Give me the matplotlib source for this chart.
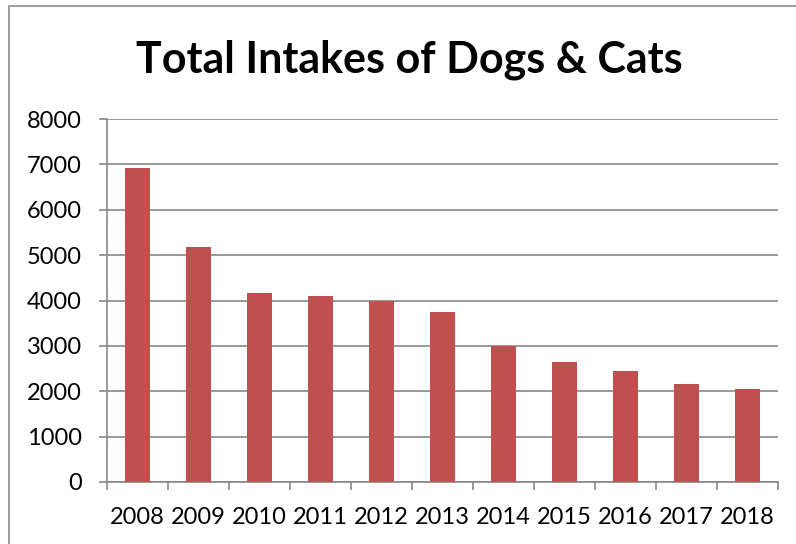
import matplotlib.pyplot as plt
from matplotlib.patches import Rectangle
import numpy as np

years = ['2008', '2009', '2010', '2011', '2012', '2013',
         '2014', '2015', '2016', '2017', '2018']
intakes = [6925, 5170, 4170, 4100, 3980, 3745, 3005, 2640, 2455, 2155, 2050]

plt.rcParams['font.family'] = ['Lato', 'DejaVu Sans']

fig = plt.figure(figsize=(7.96, 5.44), dpi=100)
ax = fig.add_axes([0.1344, 0.114, 0.8430, 0.667])

# outer chart border (Excel style), runs off the right/bottom of the image
fig.patches.append(Rectangle((9 / 796, -0.2), 1.2, 1.2 - 6 / 544,
                             transform=fig.transFigure, fill=False,
                             edgecolor='#8c8c8c', linewidth=1.2))

x = np.arange(len(years))
ax.bar(x, intakes, width=0.4, color='#C0504D', zorder=3)

ax.set_xlim(-0.5, len(years) - 0.5)
ax.set_ylim(0, 8000)
ax.set_yticks(range(0, 8001, 1000))
ax.yaxis.grid(True, color='#888888', linewidth=1.2, zorder=0)

ax.set_xticks(x)
ax.set_xticklabels(years)
ax.set_xticks(np.arange(-0.5, len(years)), minor=True)
ax.tick_params(axis='x', which='major', length=0, pad=18, labelsize=17)
ax.tick_params(axis='x', which='minor', length=6, color='#888888', width=1.2)
ax.tick_params(axis='y', length=6, color='#888888', width=1.2, pad=12, labelsize=17)

for side in ['top', 'right']:
    ax.spines[side].set_visible(False)
for side in ['left', 'bottom']:
    ax.spines[side].set_color('#888888')
    ax.spines[side].set_linewidth(1.2)

fig.text(0.514, 0.867, 'Total Intakes of Dogs & Cats', ha='center', va='baseline',
         fontsize=31, fontweight='bold')

fig.savefig('out.png', dpi=100)
